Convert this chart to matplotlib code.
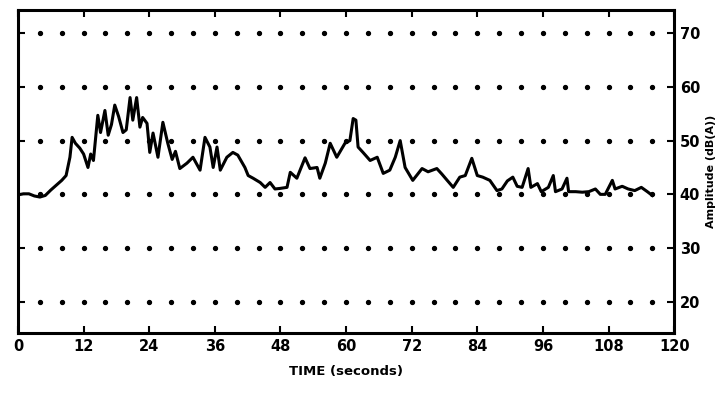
import matplotlib
matplotlib.use('Agg')
import matplotlib.pyplot as plt
import numpy as np

# ── data ───────────────────────────────────────────────────
time_s = [0, 1, 2, 3, 4, 5, 6, 7, 8, 8.8, 9.5, 9.9, 10.5, 11.3, 12, 12.8, 13.3,
          13.8, 14.6, 15.1, 15.9, 16.5, 17.1, 17.7, 18.4, 19.2, 19.8, 20.5, 21.0,
          21.7, 22.3, 22.8, 23.6, 24.1, 24.7, 25.6, 26.5, 27.4, 28.2, 28.8, 29.6,
          30.9, 32.0, 33.3, 34.2, 35.1, 35.7, 36.4, 37.0, 38.2, 39.3, 40.2, 41.5,
          42.1, 43.0, 44.3, 45.2, 46.1, 47.0, 47.9, 49.2, 49.8, 51.0, 52.5, 53.4,
          54.7, 55.2, 56.2, 57.1, 58.3, 59.8, 60.7, 61.3, 61.8, 62.2, 63.1, 64.4,
          65.7, 66.8, 68.0, 69.0, 69.9, 70.8, 72.2, 73.9, 75.0, 76.6, 77.5, 78.5,
          79.6, 80.8, 81.8, 83.0, 84.0, 85.0, 86.3, 87.6, 88.5, 89.5, 90.5, 91.3,
          92.2, 93.3, 93.8, 95.0, 95.7, 97.0, 97.9, 98.3, 99.5, 100.4, 100.7, 102.0,
          103.2, 104.4, 105.6, 106.5, 107.4, 108.7, 109.2, 110.5, 111.6, 112.8,
          114.0, 115.1, 116.0]
amplitude = [39.9, 40.1, 40.1, 39.7, 39.5, 39.8, 40.8, 41.7, 42.6, 43.5, 46.9, 50.6,
             49.5, 48.6, 47.5, 45.0, 47.5, 46.3, 54.7, 51.5, 55.6, 51.0, 53.0, 56.6,
             54.5, 51.5, 52.0, 58.0, 53.8, 58.0, 52.5, 54.3, 53.2, 47.8, 51.4, 46.9,
             53.4, 49.5, 46.5, 48.0, 44.8, 45.8, 46.9, 44.5, 50.6, 48.8, 45.0, 48.8,
             44.5, 46.9, 47.8, 47.3, 45.0, 43.5, 43.0, 42.2, 41.3, 42.2, 41.0, 41.1,
             41.3, 44.1, 43.0, 46.8, 44.8, 45.0, 43.0, 45.8, 49.5, 46.9, 49.5, 50.0,
             54.1, 53.8, 48.8, 47.8, 46.3, 46.9, 43.9, 44.5, 46.9, 50.0, 45.0, 42.6,
             44.8, 44.2, 44.8, 43.8, 42.6, 41.3, 43.2, 43.5, 46.7, 43.5, 43.2, 42.6,
             40.7, 41.0, 42.5, 43.2, 41.5, 41.3, 44.8, 41.3, 42.0, 40.5, 41.3, 43.5,
             40.5, 41.0, 43.0, 40.5, 40.5, 40.4, 40.5, 41.0, 40.0, 40.0, 42.6, 41.0,
             41.5, 41.0, 40.7, 41.3, 40.5, 39.8]

x_ticks = [0, 12, 24, 36, 48, 60, 72, 84, 96, 108, 120]
y_ticks = [20, 30, 40, 50, 60, 70]

# ── plot ───────────────────────────────────────────────────
plt.rcParams['font.family'] = ['DejaVu Sans']
plt.rcParams['font.weight'] = 'bold'

fig = plt.figure(figsize=(7.28, 3.97), dpi=100)
ax = fig.add_axes([0.0247, 0.161, 0.9013, 0.814])

# dotted horizontal grid, one dot every 4 s
dot_x = np.arange(4, 120, 4)
for yv in y_ticks:
    ax.plot(dot_x, np.full(len(dot_x), yv), linestyle='none', marker='o',
            markersize=2.8, color='black')

ax.plot(time_s, amplitude, color='black', linewidth=2.2, solid_joinstyle='round')

ax.set_xlim(0, 120)
ax.set_ylim(14.2, 74.3)
ax.set_xticks(x_ticks)
ax.set_yticks(y_ticks)

ax.tick_params(axis='both', direction='in', length=5, width=1.5,
               top=True, bottom=True, left=True, right=True,
               labelleft=False, labelright=True, labelsize=10.5, pad=4)
for lbl in ax.get_xticklabels() + ax.get_yticklabels():
    lbl.set_fontweight('bold')

for sp in ax.spines.values():
    sp.set_linewidth(2.2)

ax.set_xlabel('TIME (seconds)', fontsize=9.5, fontweight='bold', labelpad=8)
ax.yaxis.set_label_position('right')
ax.set_ylabel('Amplitude (dB(A))', fontsize=8, fontweight='bold', labelpad=4)

plt.savefig('out.png', dpi=100)
plt.close()
